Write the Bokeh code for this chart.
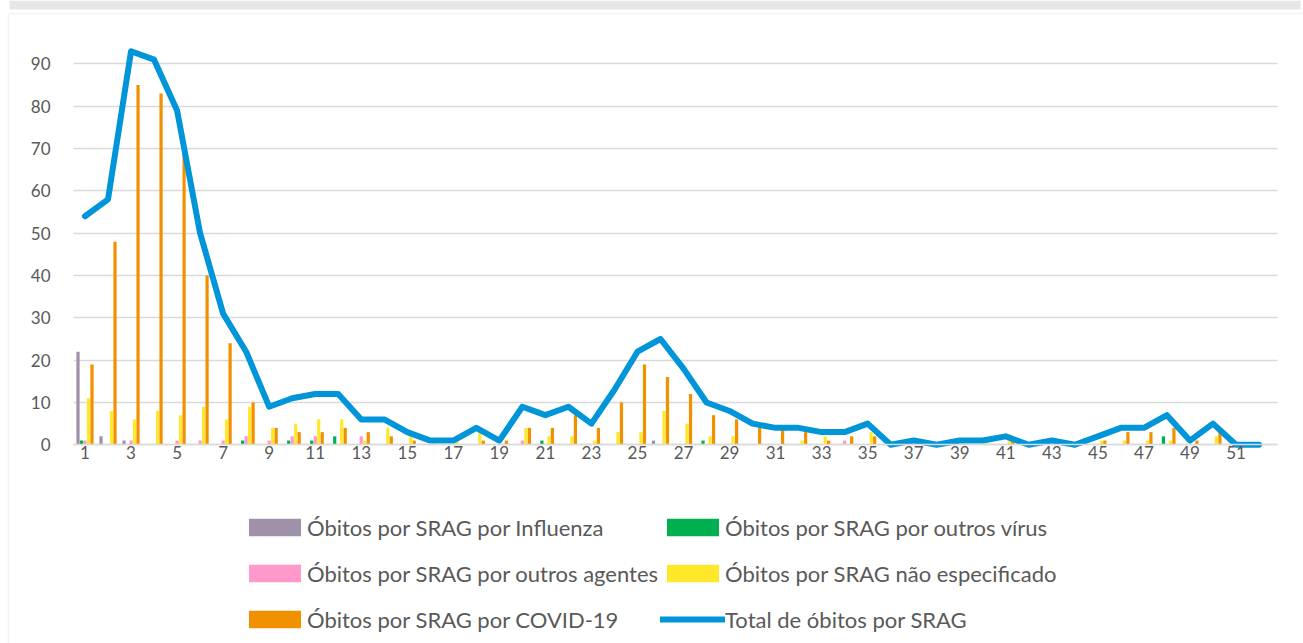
from bokeh.plotting import figure
from bokeh.models import (ColumnDataSource, Range1d, FixedTicker, Legend, LegendItem,
                          BoxAnnotation)
from bokeh.transform import dodge
from bokeh.embed import file_html
from bokeh.resources import INLINE

weeks = list(range(1, 53))
influenza = [22, 2, 1, 0, 0, 0, 0, 0, 0, 0, 0, 0, 0, 0, 0, 0, 0, 0, 0, 0,
             0, 0, 0, 0, 0, 1, 0, 0, 0, 0, 0, 0, 0, 0, 0, 0, 0, 0, 0, 0,
             0, 0, 0, 0, 0, 0, 0, 0, 0, 0, 0, 0]
outros_virus = [1, 0, 0, 0, 0, 0, 0, 1, 0, 1, 1, 2, 0, 0, 0, 0, 0, 0, 0, 0,
                1, 0, 0, 0, 0, 0, 0, 1, 0, 0, 0, 0, 0, 0, 0, 0, 0, 0, 0, 0,
                0, 0, 0, 0, 0, 0, 0, 2, 0, 0, 0, 0]
outros_agentes = [1, 0, 1, 0, 1, 1, 1, 2, 1, 2, 2, 0, 2, 0, 0, 0, 0, 0, 0, 1,
                  0, 0, 0, 0, 0, 0, 0, 0, 0, 0, 0, 0, 0, 1, 0, 0, 0, 0, 0, 0,
                  0, 0, 0, 0, 0, 0, 0, 0, 0, 0, 0, 0]
nao_especificado = [11, 8, 6, 8, 7, 9, 6, 9, 4, 5, 6, 6, 1, 4, 2, 1, 1, 3, 0, 4,
                    2, 2, 1, 3, 3, 8, 5, 2, 2, 0, 0, 1, 2, 0, 3, 0, 1, 0, 1, 1,
                    1, 0, 1, 0, 1, 1, 1, 1, 0, 2, 0, 0]
covid = [19, 48, 85, 83, 70, 40, 24, 10, 4, 3, 3, 4, 3, 2, 1, 0, 0, 1, 1, 4,
         4, 7, 4, 10, 19, 16, 12, 7, 6, 5, 4, 3, 1, 2, 2, 0, 0, 0, 0, 0,
         1, 0, 0, 0, 1, 3, 3, 4, 1, 3, 0, 0]
total = [54, 58, 93, 91, 79, 50, 31, 22, 9, 11, 12, 12, 6, 6, 3, 1, 1, 4, 1, 9,
         7, 9, 5, 13, 22, 25, 18, 10, 8, 5, 4, 4, 3, 3, 5, 0, 1, 0, 1, 1,
         2, 0, 1, 0, 2, 4, 4, 7, 1, 5, 0, 0]

labels = ["Óbitos por SRAG por Influenza", "Óbitos por SRAG por outros vírus",
          "Óbitos por SRAG por outros agentes", "Óbitos por SRAG não especificado",
          "Óbitos por SRAG por COVID-19", "Total de óbitos por SRAG"]
colors = ["#a091ab", "#00b050", "#ff99cc", "#ffe82a", "#f29100", "#0095d9"]
y_ticks = list(range(0, 100, 10))
x_ticks = list(range(1, 53, 2))

src = ColumnDataSource(dict(week=weeks, influenza=influenza, outros_virus=outros_virus,
                            outros_agentes=outros_agentes, nao_especificado=nao_especificado,
                            covid=covid, total=total))

W, H = 1303, 643
px_x = 23.02          # pixels per week
px_y = 4.232          # pixels per unit
x0 = 1 - 84.5 / px_x
y1 = 444.3 / px_y
p = figure(width=W, height=H, output_backend="svg", toolbar_location=None,
           x_range=Range1d(x0, x0 + W / px_x), y_range=Range1d(y1 - H / px_y, y1),
           min_border=0)
p.outline_line_color = None
p.background_fill_color = "white"
p.border_fill_color = "white"

xlo, xhi = 0.5, 52.8
try:
    p.ygrid.cross_bounds = (xlo, xhi)
    p.ygrid.grid_line_color = "#d9d9d9"
    p.ygrid.grid_line_width = 1.5
except AttributeError:
    p.ygrid.grid_line_color = None
    p.segment(x0=[xlo] * len(y_ticks), x1=[xhi] * len(y_ticks), y0=y_ticks, y1=y_ticks,
              line_color="#d9d9d9", line_width=1.5)
p.xgrid.grid_line_color = None

fields = ["influenza", "outros_virus", "outros_agentes", "nao_especificado", "covid"]
offsets = [-0.304, -0.152, 0.0, 0.152, 0.304]
renderers = []
for f, off, c in zip(fields, offsets, colors[:5]):
    r = p.vbar(x=dodge("week", off, range=p.x_range), top=f, width=0.14, bottom=0,
               source=src, fill_color=c, line_color=None)
    renderers.append(r)

ln = p.line("week", "total", source=src, line_color=colors[5], line_width=6,
            line_join="round", line_cap="round")
renderers.append(ln)

font = "Lato"
p.xaxis.fixed_location = 0
p.yaxis.fixed_location = xlo
p.xaxis.bounds = (xlo, xhi)
p.xaxis.ticker = FixedTicker(ticks=x_ticks)
p.yaxis.ticker = FixedTicker(ticks=y_ticks)
for ax in (p.xaxis[0], p.yaxis[0]):
    ax.major_tick_line_color = None
    ax.minor_tick_line_color = None
    ax.major_tick_out = 0
    ax.major_tick_in = 0
    ax.major_label_text_font = font
    ax.major_label_text_font_size = "17px"
    ax.major_label_text_color = "#595959"
p.xaxis.axis_line_color = "#d9d9d9"
p.xaxis.axis_line_width = 1.5
p.yaxis.axis_line_color = None
p.xaxis.major_label_standoff = 1
p.yaxis.major_label_standoff = 23

# page decoration: grey strip on top and light frame border (screen units, y up)
p.add_layout(BoxAnnotation(left=9, right=1300, top=H, bottom=H - 9, left_units="screen",
                           right_units="screen", top_units="screen", bottom_units="screen",
                           fill_color="#e6e6e6", fill_alpha=1, line_color=None))
p.add_layout(BoxAnnotation(left=8, right=1310, top=H - 13, bottom=-20, left_units="screen",
                           right_units="screen", top_units="screen", bottom_units="screen",
                           fill_alpha=0, line_color="#d9d9d9", line_width=1.5))

items = [LegendItem(label=l, renderers=[r]) for l, r in zip(labels, renderers)]
legend = Legend(items=items, location=(242, 2), ncols=2, orientation="horizontal",
                glyph_width=65, glyph_height=22, label_standoff=0, label_height=44,
                spacing=2, padding=0, margin=0, border_line_color=None,
                background_fill_alpha=0, label_text_font=font,
                label_text_font_size="22px", label_text_color="#595959")
p.add_layout(legend, "center")

open("out.html", "w").write(file_html(p, INLINE))
